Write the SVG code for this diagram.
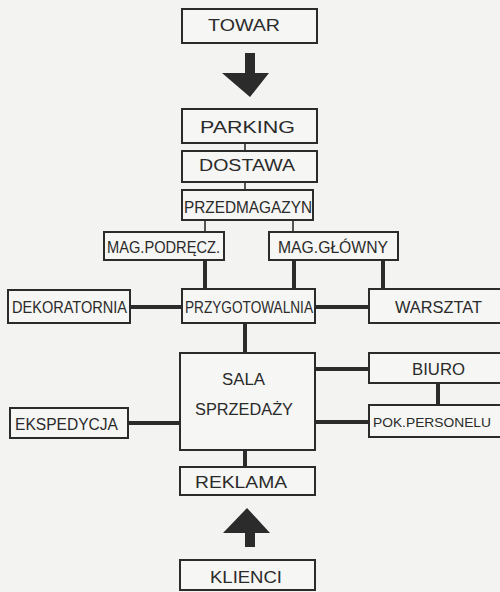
<svg xmlns="http://www.w3.org/2000/svg" width="500" height="592" viewBox="0 0 500 592">
<style>
.bg{fill:#f3f3f1}
.box{fill:#f6f6f4;stroke:#2b2b2b;stroke-width:2}
.lbl{font-family:"Liberation Sans",Arial,sans-serif;font-size:16px;fill:#2a2a2a;text-anchor:start}
.sm{font-size:13px}
.thick{stroke:#2b2b2b;stroke-width:4;fill:none}
.thin{stroke:#555;stroke-width:2;fill:none}
.arr{fill:#2b2b2b}
</style>
<rect class="bg" x="0" y="0" width="500" height="592"/>
<g id="connectors">
<line class="thin" x1="245" y1="143" x2="245" y2="151"/>
<line class="thin" x1="245" y1="182" x2="245" y2="190"/>
<line class="thin" x1="205" y1="220" x2="205" y2="232"/>
<line class="thin" x1="293" y1="220" x2="293" y2="232"/>
<line class="thick" x1="205" y1="260" x2="205" y2="289"/>
<line class="thick" x1="294" y1="260" x2="294" y2="289"/>
<line class="thick" x1="383" y1="260" x2="383" y2="289"/>
<line class="thick" x1="130" y1="307" x2="182" y2="307"/>
<line class="thick" x1="315" y1="307" x2="369" y2="307"/>
<line class="thick" x1="245" y1="323" x2="245" y2="353"/>
<line class="thick" x1="315" y1="369" x2="369" y2="369"/>
<line class="thick" x1="315" y1="422" x2="369" y2="422"/>
<line class="thick" x1="438" y1="383" x2="438" y2="405"/>
<line class="thick" x1="128" y1="423" x2="180" y2="423"/>
<line class="thick" x1="245" y1="450" x2="245" y2="467"/>
<polygon class="arr" points="245,53 255,53 255,73 269,73 250,97 222,73 245,73"/>
<polygon class="arr" points="247,508 270,533 255,533 255,547 245,547 245,533 223,533"/>
</g>
<g id="towar"><rect class="box" x="182" y="9" width="135" height="34"/><text class="lbl" x="208" y="31" textLength="72" lengthAdjust="spacingAndGlyphs">TOWAR</text></g>
<g id="parking"><rect class="box" x="182" y="109" width="135" height="34"/><text class="lbl" x="200" y="133" textLength="95" lengthAdjust="spacingAndGlyphs">PARKING</text></g>
<g id="dostawa"><rect class="box" x="182" y="151" width="135" height="31"/><text class="lbl" x="199" y="171" textLength="96" lengthAdjust="spacingAndGlyphs">DOSTAWA</text></g>
<g id="przedmagazyn"><rect class="box" x="182" y="190" width="131" height="30"/><text class="lbl" x="184" y="213" textLength="128" lengthAdjust="spacingAndGlyphs">PRZEDMAGAZYN</text></g>
<g id="mag-podrecz"><rect class="box" x="104" y="232" width="120" height="28"/><text class="lbl" x="107" y="253" textLength="113" lengthAdjust="spacingAndGlyphs">MAG.PODRĘCZ.</text></g>
<g id="mag-glowny"><rect class="box" x="269" y="232" width="129" height="28"/><text class="lbl" x="278" y="253" textLength="110" lengthAdjust="spacingAndGlyphs">MAG.GŁÓWNY</text></g>
<g id="dekoratornia"><rect class="box" x="8" y="290" width="122" height="33"/><text class="lbl" x="12" y="313" textLength="115" lengthAdjust="spacingAndGlyphs">DEKORATORNIA</text></g>
<g id="przygotowalnia"><rect class="box" x="182" y="289" width="133" height="34"/><text class="lbl" x="185" y="313" textLength="128" lengthAdjust="spacingAndGlyphs">PRZYGOTOWALNIA</text></g>
<g id="warsztat"><rect class="box" x="369" y="289" width="135" height="34"/><text class="lbl" x="395" y="313" textLength="87" lengthAdjust="spacingAndGlyphs">WARSZTAT</text></g>
<g id="sala-sprzedazy"><rect class="box" x="180" y="353" width="135" height="97"/><text class="lbl" x="222" y="385" textLength="43" lengthAdjust="spacingAndGlyphs">SALA</text><text class="lbl" x="195" y="415" textLength="98" lengthAdjust="spacingAndGlyphs">SPRZEDAŻY</text></g>
<g id="biuro"><rect class="box" x="369" y="353" width="135" height="30"/><text class="lbl" x="412" y="375" textLength="53" lengthAdjust="spacingAndGlyphs">BIURO</text></g>
<g id="pok-personelu"><rect class="box" x="369" y="405" width="135" height="32"/><text class="lbl sm" x="373" y="427" textLength="118" lengthAdjust="spacingAndGlyphs">POK.PERSONELU</text></g>
<g id="ekspedycja"><rect class="box" x="10" y="408" width="118" height="30"/><text class="lbl" x="15" y="430" textLength="103" lengthAdjust="spacingAndGlyphs">EKSPEDYCJA</text></g>
<g id="reklama"><rect class="box" x="180" y="467" width="135" height="28"/><text class="lbl" x="195" y="488" textLength="92" lengthAdjust="spacingAndGlyphs">REKLAMA</text></g>
<g id="klienci"><rect class="box" x="180" y="560" width="135" height="30"/><text class="lbl" x="210" y="583" textLength="72" lengthAdjust="spacingAndGlyphs">KLIENCI</text></g>
</svg>
